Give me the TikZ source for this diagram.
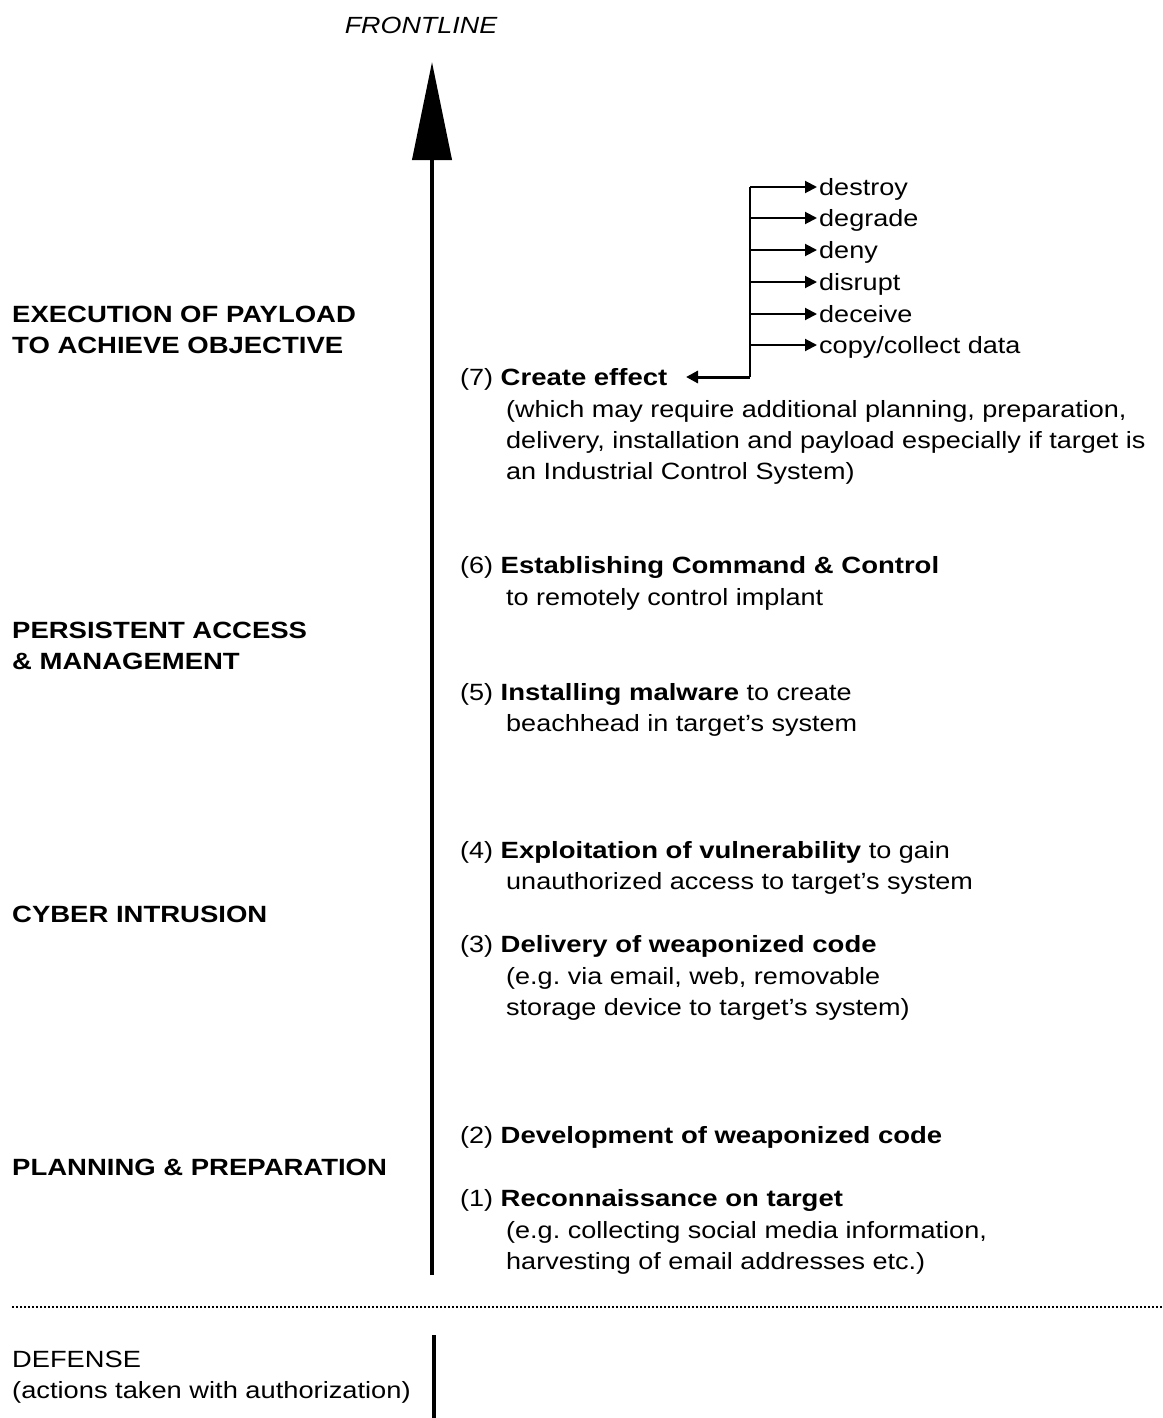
\documentclass[tikz,border=0pt]{standalone}
\usepackage{fontspec}
\setmainfont{Liberation Sans}[FakeStretch=1.15, BoldFeatures={FakeStretch=1.17}]
\newfontfamily\deffont{Liberation Sans}[FakeStretch=1.16]
\usetikzlibrary{arrows.meta}
\tikzset{
  txt/.style={anchor=base west, inner sep=0pt, font=\fontsize{23.5}{31}\selectfont},
  phase/.style={anchor=base west, inner sep=0pt, font=\fontsize{23.5}{31}\selectfont\bfseries},
  effect/.style={anchor=base west, inner sep=0pt, font=\fontsize{23.5}{31}\selectfont},
  deftxt/.style={anchor=base west, inner sep=0pt, font=\deffont\fontsize{23.5}{31}\selectfont},
  tiparrow/.style={line width=2pt, -{Triangle[length=12pt,width=12pt]}},
}
\begin{document}
\begin{tikzpicture}[x=1pt,y=-1pt]
\useasboundingbox (0,0) rectangle (1162,1418);
% frontline
\node[anchor=center, inner sep=0pt, font=\fontsize{23.4}{31}\selectfont\itshape] (front) at (421,25) {FRONTLINE};
\coordinate (abot) at (432,1275);
\coordinate (atop) at (432,62);
\draw[line width=4pt, -{Triangle[length=98pt,width=39pt]}] (abot) -- (atop);
% phases
\node[phase] (ph4a) at (12,322) {EXECUTION OF PAYLOAD};
\node[phase] (ph4b) at (12,353) {TO ACHIEVE OBJECTIVE};
\node[phase] (ph3a) at (12,638) {PERSISTENT ACCESS};
\node[phase] (ph3b) at (12,669) {\&\ MANAGEMENT};
\node[phase] (ph2) at (12,922) {CYBER INTRUSION};
\node[phase] (ph1) at (12,1175) {PLANNING \& PREPARATION};
% steps
\node[txt] (s7) at (460,385) {(7) \textbf{Create effect}};
\node[txt] (s7a) at (506,417) {(which may require additional planning, preparation,};
\node[txt] (s7b) at (506,448) {delivery, installation and payload especially if target is};
\node[txt] (s7c) at (506,479) {an Industrial Control System)};
\node[txt] (s6) at (460,573) {(6) \textbf{Establishing Command \& Control}};
\node[txt] (s6a) at (506,605) {to remotely control implant};
\node[txt] (s5) at (460,700) {(5) \textbf{Installing malware} to create};
\node[txt] (s5a) at (506,731) {beachhead in target’s system};
\node[txt] (s4) at (460,858) {(4) \textbf{Exploitation of vulnerability} to gain};
\node[txt] (s4a) at (506,889) {unauthorized access to target’s system};
\node[txt] (s3) at (460,952) {(3) \textbf{Delivery of weaponized code}};
\node[txt] (s3a) at (506,984) {(e.g.\ via email, web, removable};
\node[txt] (s3b) at (506,1015) {storage device to target’s system)};
\node[txt] (s2) at (460,1143) {(2) \textbf{Development of weaponized code}};
\node[txt] (s1) at (460,1206) {(1) \textbf{Reconnaissance on target}};
\node[txt] (s1a) at (506,1238) {(e.g.\ collecting social media information,};
\node[txt] (s1b) at (506,1269) {harvesting of email addresses etc.)};
% effects
\node[effect] (e1) at (819,195) {destroy};
\node[effect] (e2) at (819,226) {degrade};
\node[effect] (e3) at (819,258) {deny};
\node[effect] (e4) at (819,290) {disrupt};
\node[effect] (e5) at (819,322) {deceive};
\node[effect] (e6) at (819,353) {copy/collect data};
\coordinate (br) at (750,377);
\coordinate (brtop) at (750,187);
\coordinate (cetip) at (686,377);
\draw[line width=2pt] (br) -- (brtop);
\foreach \i/\y in {1/187,2/218,3/250,4/282,5/314,6/345}{
  \draw[tiparrow] (750,\y) -- ([xshift=-2pt]e\i.west |- 0,\y);
}
\draw[line width=3pt, -{Triangle[length=12pt,width=12pt]}] (br) -- (cetip);
% defense
\coordinate (dl) at (12,1307);
\coordinate (dr) at (1162,1307);
\draw[line width=2.5pt, dash pattern=on 2pt off 2pt] (dl) -- (dr);
\node[deftxt] (def) at (12,1367) {DEFENSE};
\node[deftxt] (defa) at (12,1398) {(actions taken with authorization)};
\coordinate (dtop) at (434,1335);
\coordinate (dbot) at (434,1418);
\draw[line width=3.5pt] (dtop) -- (dbot);
\end{tikzpicture}
\end{document}
